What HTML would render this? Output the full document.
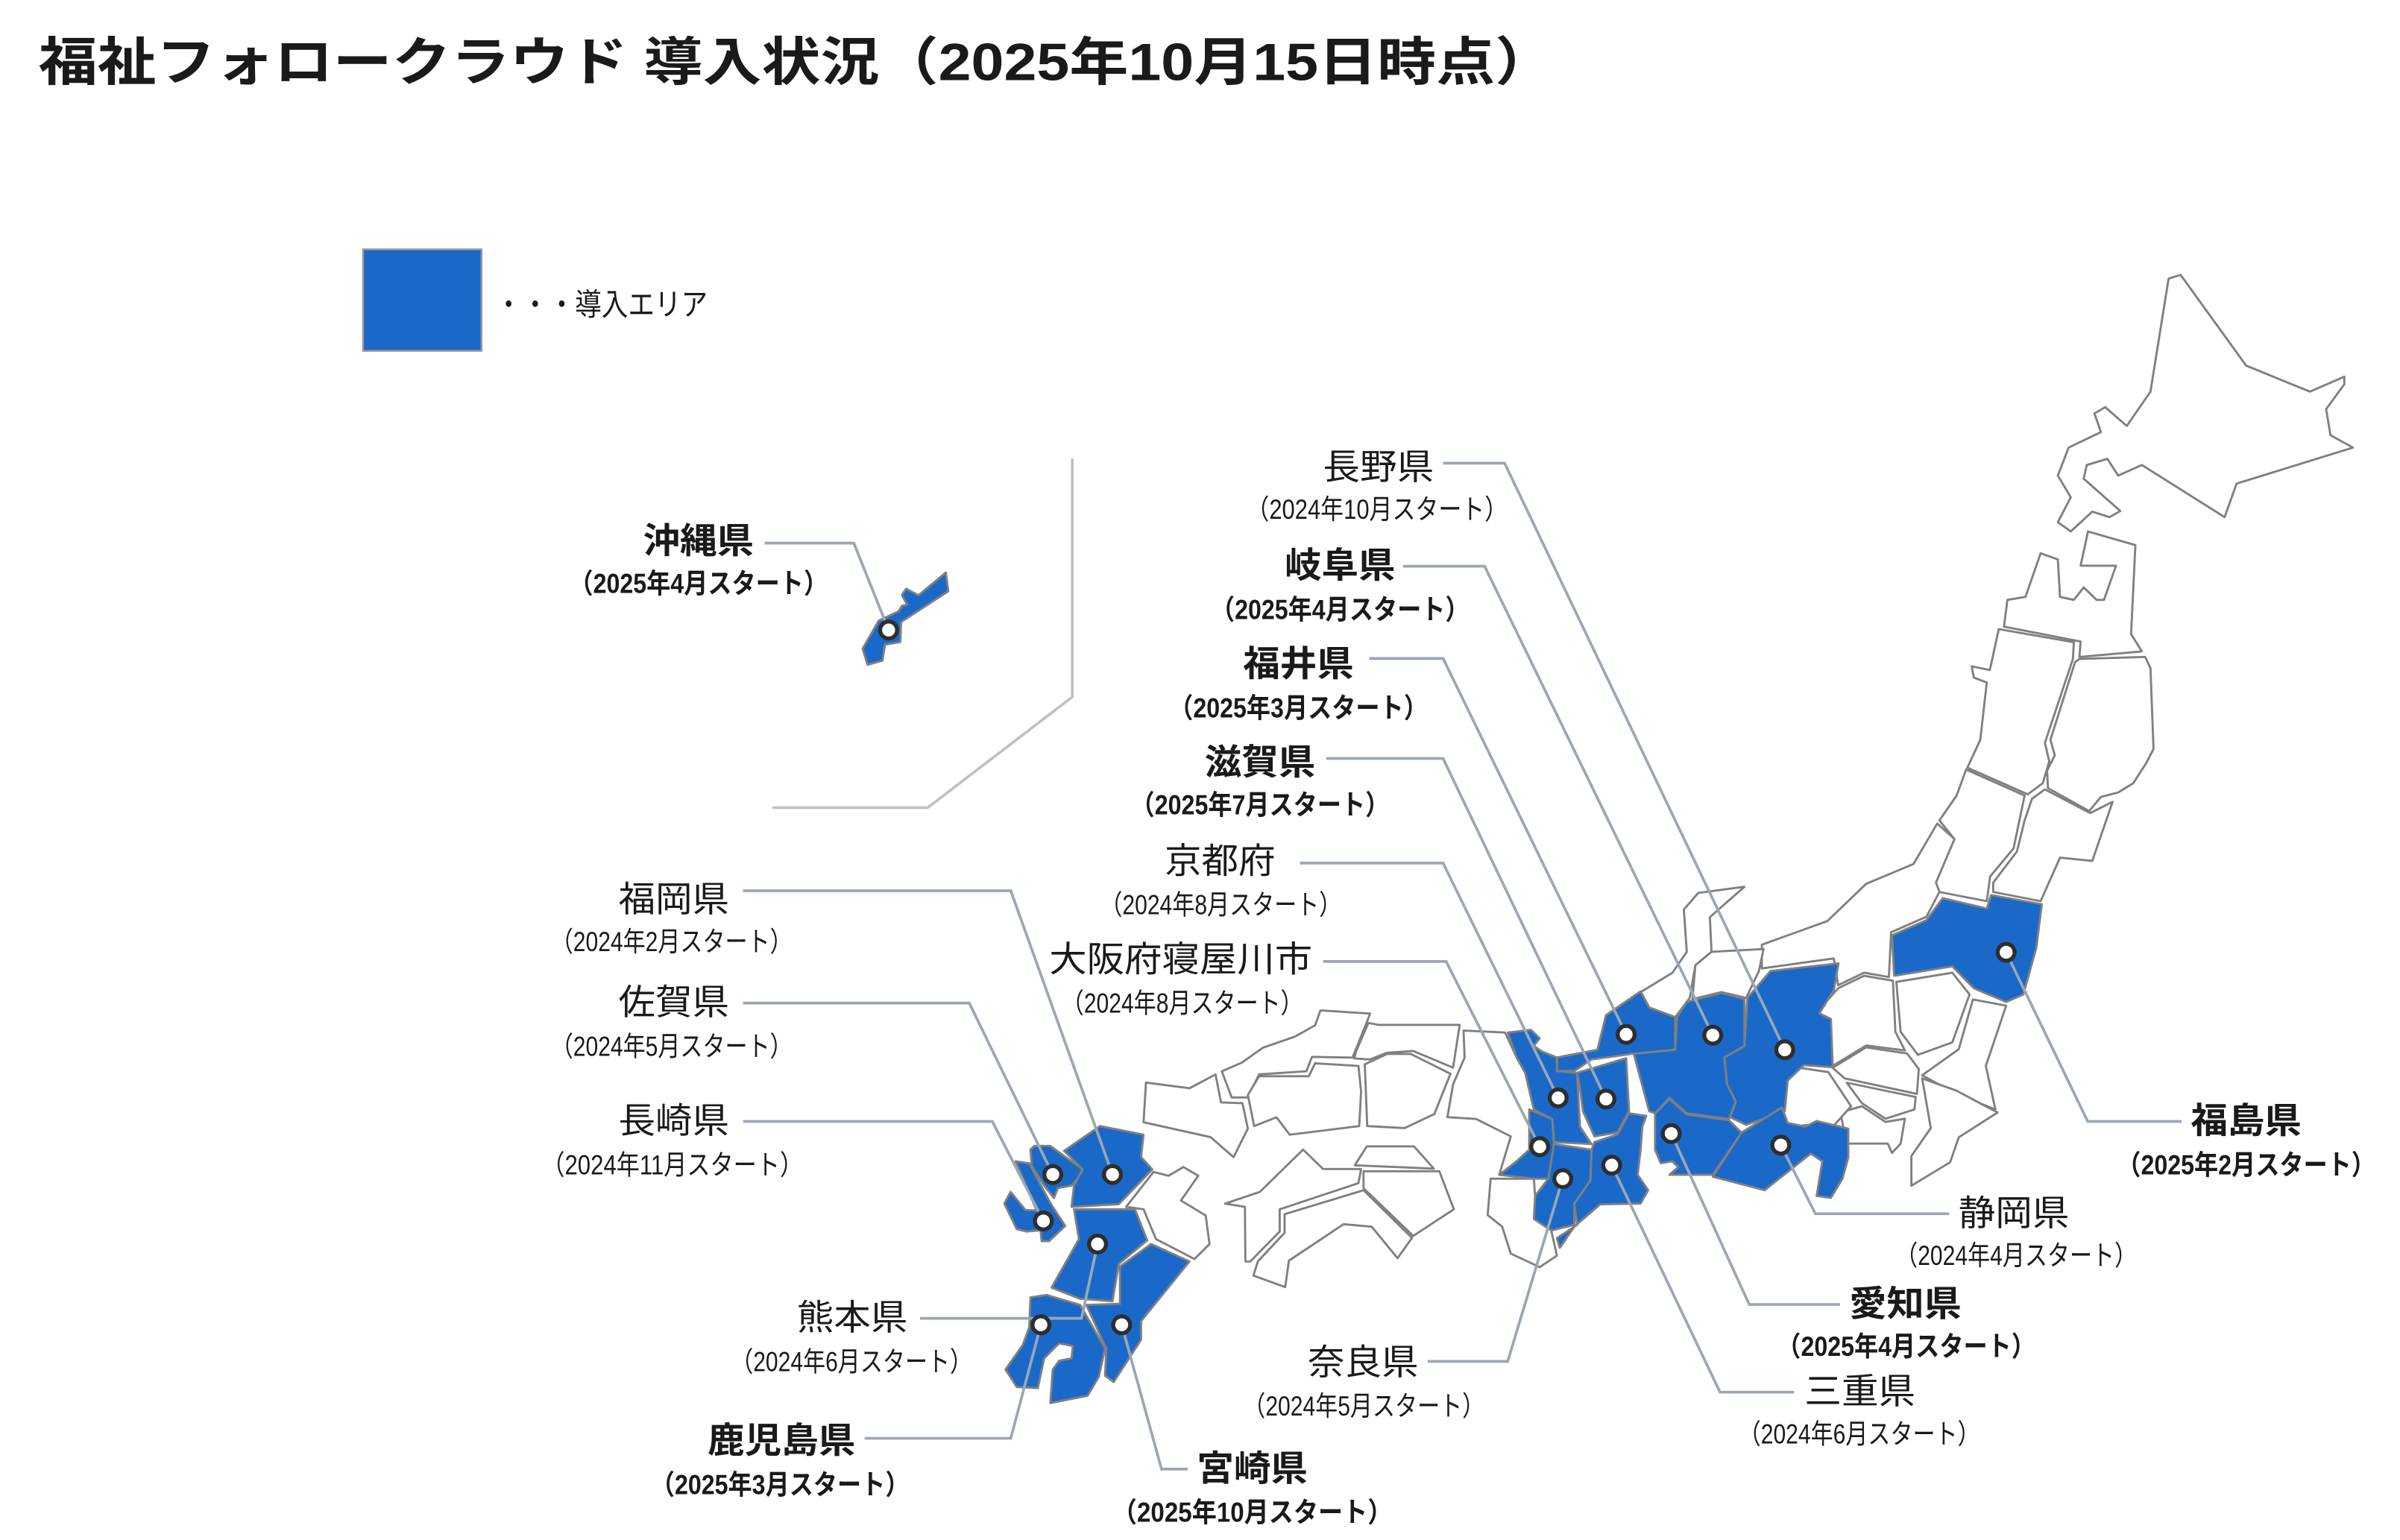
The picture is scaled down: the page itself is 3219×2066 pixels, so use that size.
<!DOCTYPE html>
<html><head><meta charset="utf-8"><style>
html,body{margin:0;padding:0;background:#fff}
svg{display:block}
text{font-family:"Liberation Sans","Noto Sans CJK JP",sans-serif;fill:#1a1a1a}
.p{stroke:#808080;stroke-width:1.4;stroke-linejoin:round}
.w{fill:#fff}
.b{fill:#1a69c9}
.c{fill:none;stroke:#9aa7b5;stroke-width:1.8}
.d{fill:#fff;stroke:#2e2e2e;stroke-width:2.6}
.L{font-size:23px}
.S{font-size:18px}
.B{font-weight:700}
</style></head><body>
<svg width="3219" height="2066" viewBox="0 0 1560 1001" xmlns="http://www.w3.org/2000/svg">
<text x="25" y="40" dominant-baseline="central" class="B" style="font-size:34px" textLength="985" lengthAdjust="spacingAndGlyphs">福祉フォロークラウド 導入状況（2025年10月15日時点）</text>

<rect x="236" y="162" width="77" height="66" fill="#1a69c9" stroke="#9a9a9a" stroke-width="1.2"/>
<text x="322" y="198" dominant-baseline="central" style="font-size:20px" textLength="138" lengthAdjust="spacingAndGlyphs">・・・導入エリア</text>

<polyline class="c" points="697,298 697,453 603,525 502,525" style="stroke:#c0c0c0"/>

<!-- Hokkaido & Tohoku -->
<polygon class="p w" points="1409.6,181 1417.4,178.6 1460,237.6 1501.4,254.5 1523.8,244.8 1523.8,249.7 1512,265.9 1514.8,282.8 1529.4,290.9 1453.8,314.3 1446,336.1 1392.2,302.2 1376.8,309.1 1369.8,298.2 1356.4,302.2 1354.4,311.1 1378.2,332.1 1371.2,336.1 1360,332.5 1346,345.4 1337.6,339.4 1346,323.2 1337.6,309.1 1344.6,290.9 1365.6,280.8 1361.4,268.7 1368.4,264.6 1382.4,276.8 1397.8,254.5"/>
<polygon class="p w" points="1357.2,345.4 1388,354.3 1385.2,412.1 1392.2,423.4 1351.6,427 1352.4,417 1302.6,407.3 1304.8,389.9 1316.6,387.9 1326.4,359.6 1337.6,363.6 1339,387.9 1348,389.9 1354.4,381.8 1362.8,389.9 1367.6,389.9 1375.4,367.7 1352.4,367.7"/>
<polygon class="p w" points="1351.6,428.3 1394.4,427 1397.8,434.3 1399.8,486.8 1395,496.1 1386.6,509.1 1376.8,515.1 1365.6,518 1358,527.2 1331.2,512.3 1330.6,501 1335.6,490.9 1332.8,480.8 1348.8,430.3"/>
<polygon class="p w" points="1299.2,408.9 1348,417.4 1347.4,428.3 1329.2,482.8 1332,494.9 1327.8,509.1 1318,516.3 1278.8,499 1287.2,480.8 1291.4,443.6 1283,440.4 1281.6,433.1 1293.4,435.5"/>
<polygon class="p w" points="1320.8,519.2 1329.2,513.1 1358.6,528.5 1373.2,521.2 1360,559.6 1339,557.5 1326.4,585.8 1295.6,579.8 1295.6,573.7 1311,553.5 1316,533.3"/>
<polygon class="p w" points="1278,500.2 1316,517.1 1308.8,551.5 1293.6,569.7 1291.4,585.8 1260.6,579.8 1257.8,573.7 1270.4,545.4 1260.6,533.3 1271.8,517.1"/>
<polygon class="p b" points="1229.8,608 1231.2,634.3 1269,628.2 1283,642.4 1304,651.3 1315.2,646.4 1323.6,616.1 1327.2,587.8 1294.2,581.8 1291.4,590.6 1262.8,583.8 1252.2,598.1"/>
<polygon class="p w" points="1145.2,614.1 1187.8,598.7 1213,574.5 1243.8,561.6 1259.2,535.3 1270.4,545.4 1258.4,573.7 1260.6,579.8 1252.2,595.9 1229.2,606 1227.8,635.1 1211.6,632.3 1194.8,640.4 1192,623 1145.2,629.5"/>
<!-- Kanto -->
<polygon class="p w" points="1194.8,642.4 1211.6,634.3 1230.4,637.5 1232,670.7 1238.2,682.8 1213,679.6 1191.2,692.9 1185,680.8 1185,664.6 1178.8,660.6"/>
<polygon class="p w" points="1232.6,638.3 1269,632.3 1280.2,646.4 1269,677.6 1246.6,685.7 1235.4,670.7"/>
<polygon class="p w" points="1282.4,649.7 1304,653.7 1290.8,692.9 1297,721.2 1271.8,711.1 1249.4,699 1273.2,682"/>
<polygon class="p w" points="1249.4,701 1271.8,709 1298.4,723.2 1273.2,739.3 1267.6,755.5 1242.4,770.8 1242.4,751.5 1255,733.3"/>
<polygon class="p w" points="1191.2,694.1 1213,680.8 1239.6,684.8 1247.2,694.9 1246,711.1 1199,701"/>
<polygon class="p w" points="1200.4,703.8 1245.2,713.1 1244.4,721.2 1225.6,727.2 1210.2,717.1"/>
<polygon class="p w" points="1196.2,723.2 1210.2,719.1 1225.6,729.3 1238.2,727.2 1235.4,743.4 1229.8,749.4 1227,743.4 1200.4,743.4"/>
<polygon class="p w" points="1157,707 1169.6,694.1 1188.4,696.9 1203.2,719.1 1190.6,733.3 1173.8,731.3 1159.8,733.3"/>
<!-- Chubu -->
<polygon class="p w" points="1066.4,644.9 1087,632.4 1096.4,618.7 1094.5,591.2 1103.9,580.4 1133.9,576.4 1111.4,596.2 1112.5,618.7 1102,627.4 1098.3,648.7 1088.9,661.2 1072,654.9"/>
<polygon class="p w" points="1112.5,618.7 1146.3,616.9 1143.3,631.2 1135,648.7 1118.9,644.9 1100.1,649.4 1102,627.4"/>
<polygon class="p b" points="1150.8,631.2 1195,626.2 1192,643.7 1182.6,658.7 1190.1,662.4 1191.3,693.7 1172.5,692.4 1162,702.4 1160.1,722.4 1135,731.2 1124.5,726.2 1128.3,716.2 1122.6,704.9 1120.8,687.4 1133.9,679.9 1135.8,648.7"/>
<polygon class="p b" points="1096.4,651.2 1118.9,645.4 1133.9,649.4 1133.9,679.9 1120.8,687.4 1122.6,704.9 1128.3,716.2 1123.8,727.4 1096.4,723.7 1085.1,713.7 1075.8,723.7 1072,722.4 1061.9,684.9 1088.9,682.4 1090,661.2"/>
<polygon class="p b" points="1066.4,644.4 1072,654.9 1088.9,661.2 1088.9,682.4 1061.9,684.9 1034.5,688.7 1023.3,696.2 1012,696.2 1012,687.4 1038.3,682.4 1043.9,659.9"/>
<polygon class="p b" points="1075.8,723.7 1085.1,714.4 1096.4,724.4 1123.8,728.2 1132,736.2 1113.3,763.7 1085.1,763.7 1090.8,758.7 1087,754.9 1079.5,756.2 1075.8,747.4"/>
<polygon class="p b" points="1132,736.2 1158.3,719.9 1162,729.9 1173.3,732.4 1180.8,728.7 1201.4,733.7 1201.4,752.4 1197.6,766.2 1190.1,778.7 1180.8,777.4 1184.5,754.9 1177,749.9 1147,773.7 1113.3,764.9"/>
<!-- Kinki -->
<polygon class="p w" points="951.3,669.9 978.3,671.2 985.8,687.4 991.4,697.4 997,721.2 994,747.4 985.8,754.9 974.5,763.7 982,738.7 959.5,727.4 940.8,726.2 944.5,704.9 952,687.4"/>
<polygon class="p b" points="980.1,671.2 995.1,669.4 1000.8,674.9 997,679.9 1002.6,683.7 1012,687.4 1012,696.2 1025.1,697.4 1027,732.4 1034.5,743.7 1010.1,742.4 1009,727.4 997,721.2 991.4,697.4 985.8,687.4"/>
<polygon class="p b" points="1025.1,697.4 1057,687.9 1058.9,722.4 1051.4,736.2 1036.4,738.7 1028.9,722.4 1027,707.4"/>
<polygon class="p b" points="994,721.2 1009,727.4 1010.1,743.7 1006.4,766.2 997,766.2 974.5,763.7 985.8,754.9 994,747.4"/>
<polygon class="p b" points="1010.1,743.7 1034.5,747.4 1033.8,767.4 1023.3,782.4 1023.3,796.2 1008.3,799.9 997,792.4 997.8,777.4 1006.4,766.2"/>
<polygon class="p b" points="1036.4,742.4 1051.4,737.4 1058.9,723.7 1070.1,725.4 1067.5,732.4 1066.4,747.4 1064.5,763.7 1071.3,773.7 1066.4,782.4 1040.1,782.9 1023.3,797.4 1013.9,811.2 1012,804.9 1025.1,796.2 1023.3,782.4 1033.8,767.4 1034.5,747.4"/>
<polygon class="p w" points="968.9,766.2 997,766.2 997.8,777.4 997,792.4 1008.3,799.9 1012,816.2 1000.8,823.7 982,814.9 976.4,797.4 967,789.9"/>
<!-- Chugoku -->
<polygon class="p w" points="744.9,703.7 773.2,707.4 790.1,698.4 793.7,716.6 807.6,717.1 811.1,733.6 801.8,752.2 786.9,739.2 743.3,729.5"/>
<polygon class="p w" points="794.2,696.4 807.1,690.8 820.8,681.1 841.8,673.8 854.8,666.5 858.3,656.8 890.6,658.9 879.8,685.9 879,687.5 852.8,687 849.1,696.4 818.4,698.4 811.1,713.4 800.6,713.4"/>
<polygon class="p w" points="811.1,711.8 818.4,699.6 850.7,699.6 854.8,691.2 883,692.9 884.7,709.3 883.5,732 838.3,737.6 829.7,726.3 815.2,732"/>
<polygon class="p w" points="889.5,664.9 896,666.2 948.8,666.2 944.5,694 918.6,683.2 901.6,684.3 890.3,688.7 880.3,688 881.4,683.5"/>
<polygon class="p w" points="887.1,691.9 901.6,685.1 917,685.1 942.8,698 932.3,724.2 913,733.3 888.7,732"/>
<!-- Shikoku -->
<polygon class="p w" points="796.3,782.4 818.9,774.8 847,747.3 860,759.9 884.7,759.9 883,769.1 831.8,786.1 831.8,800.6 812.7,820 809.5,820 809.2,784.5"/>
<polygon class="p w" points="835,789.3 886.3,773.7 917.8,804.7 908.4,817.9 891.6,797.4 873.3,795.8 837.8,819.5 835.4,836.7 814.7,829.2 817.6,820 835,801.4"/>
<polygon class="p w" points="880.6,757.5 888.4,745.2 919.1,745.2 932,759.7"/>
<polygon class="p w" points="886.3,761.4 935.6,761.4 945,786.1 918.6,803.4 886.3,772.4"/>
<!-- Kyushu -->
<polygon class="p w" points="749.8,761.8 759.5,764.3 769.2,758.6 778.9,764.3 767.6,780.4 783.7,790.1 786.2,808.7 776.4,818.4 751.4,805.5 743.3,786.1 732,784.5"/>
<polygon class="p b" points="691.6,748.1 715,732 743.3,737.6 741.7,752.1 749,760.2 727.2,782.8 696.5,784.5 698.1,770.7 703.7,760.2"/>
<polygon class="p b" points="669.8,747.3 672.2,744.9 682.7,744.9 703.7,760.2 700.5,765.9 696.5,770.7 687.6,772.3 685.1,778.8 678.7,770.7 670.6,757.8"/>
<polygon class="p b" points="660.1,754.9 669,756.2 682.7,782 692.4,796.9 681.9,806.8 677.1,806.8 676.3,799.8 667.4,800.6 660.9,799 652.8,782.4 656.9,774.8 666.6,786.6 673.8,786.9"/>
<polygon class="p b" points="698.1,786.1 737.7,786.1 745.7,806.3 727.2,821.6 723.1,845.9 702.1,844.3 683.5,837 701.3,805.5"/>
<polygon class="p b" points="728,823.2 748.2,808.7 773.2,820 741.7,858.8 741.7,870.9 723.9,898.4 718.3,894.3 719.1,876.6 706.1,848.3 728,847.5"/>
<polygon class="p b" points="669.8,843.4 680.3,841.8 702.1,848.3 718.3,876.6 714.2,895.1 706.9,907.3 682.7,912.1 684.3,890.3 688.4,884.6 696.5,883 697.3,875 688.4,873.3 678.7,883 674.6,902.4 660.9,901.6 653.6,890.3 664.9,874.1 669,862.8"/>
<!-- Okinawa -->
<polygon class="p b" points="560.7,421.6 571.2,403.4 584.1,397.3 586.2,393.8 589.7,393 586.2,386.9 589,382.6 597,386.9 614.8,372.1 616.4,384.3 585.7,404.3 585.2,417.3 575.2,419 573.6,429.4 563.9,432.1"/>

<!-- connectors -->
<polyline class="c" points="497,353 555,353 577.6,409.5"/>
<polyline class="c" points="938,301 978,301 1160.1,682.4"/>
<polyline class="c" points="912,368 965,368 1113.3,672.9"/>
<polyline class="c" points="890,428 938,428 1057,672.4"/>
<polyline class="c" points="862,493 938,493 1043.9,714.4"/>
<polyline class="c" points="845,561 938,561 1012.8,713.7"/>
<polyline class="c" points="860,625 940,625 1000.8,745.4"/>
<polyline class="c" points="483,579 657,579 723.1,763.5"/>
<polyline class="c" points="483,652 630,652 684.3,763.5"/>
<polyline class="c" points="483,729 645,729 678.2,793.7"/>
<polyline class="c" points="598,857 703,857 713.4,808.7"/>
<polyline class="c" points="562,935 657,935 676.6,861.2"/>
<polyline class="c" points="729.1,861.2 755,955 772,955"/>
<polyline class="c" points="928,885 980,885 1015.8,766.2"/>
<polyline class="c" points="1166,905 1118,905 1047.6,757.4"/>
<polyline class="c" points="1196,848 1137,848 1086.3,736.9"/>
<polyline class="c" points="1267,789 1180,789 1157.5,744.4"/>
<polyline class="c" points="1418,729 1357,729 1304,619"/>

<!-- dots -->
<g class="d">
<circle cx="577.6" cy="409.5" r="5.5"/>
<circle cx="723.1" cy="763.5" r="5.5"/>
<circle cx="684.3" cy="763.5" r="5.5"/>
<circle cx="678.2" cy="793.7" r="5.5"/>
<circle cx="713.4" cy="808.7" r="5.5"/>
<circle cx="676.6" cy="861.2" r="5.5"/>
<circle cx="729.1" cy="861.2" r="5.5"/>
<circle cx="1057" cy="672.4" r="5.5"/>
<circle cx="1113.3" cy="672.9" r="5.5"/>
<circle cx="1160.1" cy="682.4" r="5.5"/>
<circle cx="1012.8" cy="713.7" r="5.5"/>
<circle cx="1043.9" cy="714.4" r="5.5"/>
<circle cx="1000.8" cy="745.4" r="5.5"/>
<circle cx="1015.8" cy="766.2" r="5.5"/>
<circle cx="1047.6" cy="757.4" r="5.5"/>
<circle cx="1086.3" cy="736.9" r="5.5"/>
<circle cx="1157.5" cy="744.4" r="5.5"/>
<circle cx="1304" cy="619" r="5.5"/>
</g>

<!-- labels -->
<g dominant-baseline="central">
<text class="L B" x="418" y="352" textLength="72" lengthAdjust="spacingAndGlyphs">沖縄県</text>
<text class="S B" x="370" y="379" textLength="168" lengthAdjust="spacingAndGlyphs">（2025年4月スタート）</text>
<text class="L" x="860" y="304" textLength="72" lengthAdjust="spacingAndGlyphs">長野県</text>
<text class="S" x="810" y="331" textLength="170" lengthAdjust="spacingAndGlyphs">（2024年10月スタート）</text>
<text class="L B" x="835" y="368" textLength="72" lengthAdjust="spacingAndGlyphs">岐阜県</text>
<text class="S B" x="787" y="396" textLength="168" lengthAdjust="spacingAndGlyphs">（2025年4月スタート）</text>
<text class="L B" x="808" y="432" textLength="72" lengthAdjust="spacingAndGlyphs">福井県</text>
<text class="S B" x="760" y="460" textLength="168" lengthAdjust="spacingAndGlyphs">（2025年3月スタート）</text>
<text class="L B" x="783" y="496" textLength="72" lengthAdjust="spacingAndGlyphs">滋賀県</text>
<text class="S B" x="735" y="523" textLength="168" lengthAdjust="spacingAndGlyphs">（2025年7月スタート）</text>
<text class="L" x="757" y="560" textLength="72" lengthAdjust="spacingAndGlyphs">京都府</text>
<text class="S" x="715" y="588" textLength="157" lengthAdjust="spacingAndGlyphs">（2024年8月スタート）</text>
<text class="L" x="682" y="624" textLength="171" lengthAdjust="spacingAndGlyphs">大阪府寝屋川市</text>
<text class="S" x="690" y="652" textLength="157" lengthAdjust="spacingAndGlyphs">（2024年8月スタート）</text>
<text class="L" x="402" y="585" textLength="72" lengthAdjust="spacingAndGlyphs">福岡県</text>
<text class="S" x="358" y="612" textLength="157" lengthAdjust="spacingAndGlyphs">（2024年2月スタート）</text>
<text class="L" x="402" y="652" textLength="72" lengthAdjust="spacingAndGlyphs">佐賀県</text>
<text class="S" x="358" y="680" textLength="157" lengthAdjust="spacingAndGlyphs">（2024年5月スタート）</text>
<text class="L" x="402" y="729" textLength="72" lengthAdjust="spacingAndGlyphs">長崎県</text>
<text class="S" x="352" y="757" textLength="170" lengthAdjust="spacingAndGlyphs">（2024年11月スタート）</text>
<text class="L" x="518" y="857" textLength="72" lengthAdjust="spacingAndGlyphs">熊本県</text>
<text class="S" x="475" y="885" textLength="157" lengthAdjust="spacingAndGlyphs">（2024年6月スタート）</text>
<text class="L B" x="460" y="937" textLength="96" lengthAdjust="spacingAndGlyphs">鹿児島県</text>
<text class="S B" x="423" y="965" textLength="168" lengthAdjust="spacingAndGlyphs">（2025年3月スタート）</text>
<text class="L B" x="778" y="955" textLength="72" lengthAdjust="spacingAndGlyphs">宮崎県</text>
<text class="S B" x="723" y="983" textLength="182" lengthAdjust="spacingAndGlyphs">（2025年10月スタート）</text>
<text class="L" x="850" y="886" textLength="72" lengthAdjust="spacingAndGlyphs">奈良県</text>
<text class="S" x="808" y="914" textLength="157" lengthAdjust="spacingAndGlyphs">（2024年5月スタート）</text>
<text class="L" x="1173" y="905" textLength="72" lengthAdjust="spacingAndGlyphs">三重県</text>
<text class="S" x="1130" y="932" textLength="157" lengthAdjust="spacingAndGlyphs">（2024年6月スタート）</text>
<text class="L B" x="1202" y="848" textLength="73" lengthAdjust="spacingAndGlyphs">愛知県</text>
<text class="S B" x="1155" y="875" textLength="168" lengthAdjust="spacingAndGlyphs">（2025年4月スタート）</text>
<text class="L" x="1273" y="789" textLength="72" lengthAdjust="spacingAndGlyphs">静岡県</text>
<text class="S" x="1232" y="816" textLength="157" lengthAdjust="spacingAndGlyphs">（2024年4月スタート）</text>
<text class="L B" x="1424" y="729" textLength="72" lengthAdjust="spacingAndGlyphs">福島県</text>
<text class="S B" x="1376" y="757" textLength="168" lengthAdjust="spacingAndGlyphs">（2025年2月スタート）</text>
</g>
</svg>
</body></html>
